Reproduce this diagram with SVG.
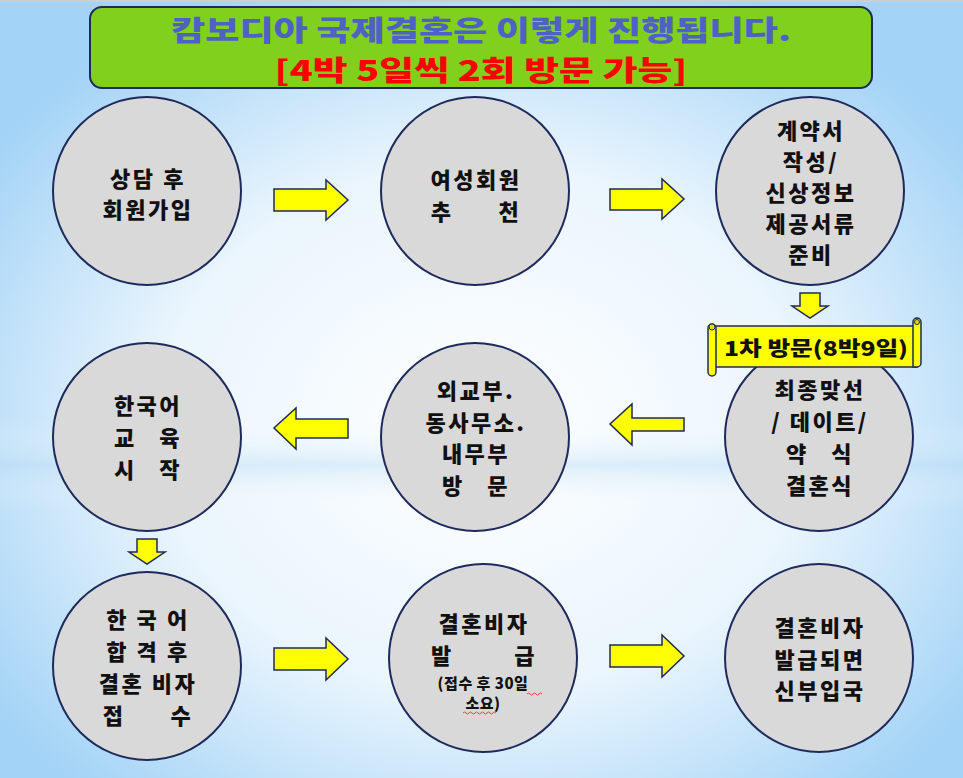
<svg xmlns="http://www.w3.org/2000/svg" width="963" height="778" viewBox="0 0 963 778">
<defs>
<radialGradient id="bg" cx="0.5" cy="0.55" r="0.62">
<stop offset="0" stop-color="#ffffff"/>
<stop offset="0.55" stop-color="#eaf5fd"/>
<stop offset="1" stop-color="#a3d3f6"/>
</radialGradient>
<linearGradient id="band" x1="0" y1="0" x2="0" y2="1">
<stop offset="0" stop-color="#ffffff" stop-opacity="0"/>
<stop offset="0.5" stop-color="#b9dcf5" stop-opacity="0.45"/>
<stop offset="1" stop-color="#ffffff" stop-opacity="0"/>
</linearGradient>
<style>
.node{fill:#d9d9d9;stroke:#1f2a5c;stroke-width:2}
.arr{fill:#ffff00;stroke:#1f2a5c;stroke-width:1.5;stroke-linejoin:miter}
.t{font-family:"Noto Sans CJK KR","Noto Sans",sans-serif;font-weight:900;font-size:22px;letter-spacing:2.5px;fill:#111;text-anchor:middle;white-space:pre}
.s{font-size:15px;letter-spacing:0.5px}
.h{font-family:"Noto Sans CJK KR",sans-serif;font-weight:900;font-size:28px;text-anchor:middle}
</style>
</defs>
<rect width="963" height="778" fill="url(#bg)"/>
<rect y="420" width="963" height="90" fill="url(#band)"/>
<rect y="0" width="963" height="2" fill="#cfcfcf"/>

<g id="title">
<rect x="90" y="7" width="782" height="81" rx="12" fill="#80d01c" stroke="#1f2a5c" stroke-width="2"/>
<text class="h" x="481" y="41" fill="#4d62c4" textLength="620" lengthAdjust="spacingAndGlyphs">캄보디아 국제결혼은 이렇게 진행됩니다.</text>
<text class="h" x="481" y="81" fill="#ff0000" textLength="413" lengthAdjust="spacingAndGlyphs">[4박 5일씩 2회 방문 가능]</text>
</g>

<g id="connectors">
<path class="arr" d="M274,189 H326 V180 L348,200 L326,220 V211 H274 Z"/>
<path class="arr" d="M610,189 H662 V179 L684,199 L662,219 V210 H610 Z"/>
<path class="arr" d="M800,293 H820 V306 H828 L810,318 L792,306 H800 Z"/>
<path class="arr" d="M684,418 H632 V404 L610,424 L632,445 V431 H684 Z"/>
<path class="arr" d="M348,419 H296 V408 L274,428 L296,449 V438 H348 Z"/>
<path class="arr" d="M137,539 H157 V552 H165 L147,564 L129,552 H137 Z"/>
<path class="arr" d="M274,648 H326 V638 L348,659 L326,680 V670 H274 Z"/>
<path class="arr" d="M610,645 H662 V635 L684,656 L662,677 V667 H610 Z"/>
</g>

<g id="n1">
<circle class="node" cx="147" cy="191" r="94"/>
<text class="t" x="148" y="187">상담 후</text>
<text class="t" x="148" y="218">회원가입</text>
</g>
<g id="n2">
<circle class="node" cx="475" cy="191" r="94"/>
<text class="t" x="476" y="188">여성회원</text>
<text class="t" x="476" y="220">추      천</text>
</g>
<g id="n3">
<circle class="node" cx="810" cy="191" r="94"/>
<text class="t" x="811" y="139">계약서</text>
<text class="t" x="811" y="170">작성/</text>
<text class="t" x="811" y="201">신상정보</text>
<text class="t" x="811" y="232">제공서류</text>
<text class="t" x="811" y="263">준비</text>
</g>
<g id="n4">
<circle class="node" cx="819" cy="437" r="94"/>
<text class="t" x="820" y="398">최종맞선</text>
<text class="t" x="820" y="430">/ 데이트/</text>
<text class="t" x="820" y="462">약   식</text>
<text class="t" x="820" y="494">결혼식</text>
</g>
<g id="banner">
<path d="M712,326 H917 V367 H712 Z" fill="#ffff00" stroke="#1f2a5c" stroke-width="1.5"/>
<rect x="708" y="324" width="8" height="52" rx="4" fill="#ffff00" stroke="#1f2a5c" stroke-width="1.5"/>
<circle cx="712" cy="327" r="3" fill="#e0e000" stroke="#1f2a5c" stroke-width="1"/>
<path d="M913,367 V322 a4,4 0 0 1 8,0 V363 a4,4 0 0 1 -4,4 Z" fill="#ffff00" stroke="#1f2a5c" stroke-width="1.5"/>
<circle cx="917" cy="322" r="2.5" fill="#e0e000" stroke="#1f2a5c" stroke-width="1"/>
<text class="t" x="816" y="356" style="font-size:20px;letter-spacing:0" textLength="184" lengthAdjust="spacingAndGlyphs">1차 방문(8박9일)</text>
</g>
<g id="n5">
<circle class="node" cx="475" cy="437" r="94"/>
<text class="t" x="476" y="399">외교부.</text>
<text class="t" x="476" y="431">동사무소.</text>
<text class="t" x="476" y="462">내무부</text>
<text class="t" x="476" y="494">방   문</text>
</g>
<g id="n6">
<circle class="node" cx="147" cy="437" r="94"/>
<text class="t" x="148" y="414">한국어</text>
<text class="t" x="148" y="446">교   육</text>
<text class="t" x="148" y="478">시   작</text>
</g>
<g id="n7">
<circle class="node" cx="147" cy="666" r="94"/>
<text class="t" x="148" y="628">한 국 어</text>
<text class="t" x="148" y="660">합 격 후</text>
<text class="t" x="148" y="692">결혼 비자</text>
<text class="t" x="148" y="724">접      수</text>
</g>
<g id="n8">
<circle class="node" cx="483" cy="658" r="94"/>
<text class="t" x="484" y="632">결혼비자</text>
<text class="t" x="484" y="664">발        급</text>
<text class="t s" x="483" y="689">(접수 후 30일</text>
<text class="t s" x="483" y="709">소요)</text>
<path d="M527,694 q1.5,-2 3,0 t3,0 t3,0 t3,0 t3,0" fill="none" stroke="#e02020" stroke-width="0.8"/>
<path d="M463,713 q1.5,-2 3,0 t3,0 t3,0 t3,0 t3,0 t3,0 t3,0 t3,0 t3,0 t3,0 t3,0" fill="none" stroke="#e02020" stroke-width="0.8"/>
</g>
<g id="n9">
<circle class="node" cx="819" cy="658" r="94"/>
<text class="t" x="820" y="636">결혼비자</text>
<text class="t" x="820" y="668">발급되면</text>
<text class="t" x="820" y="699">신부입국</text>
</g>
</svg>
